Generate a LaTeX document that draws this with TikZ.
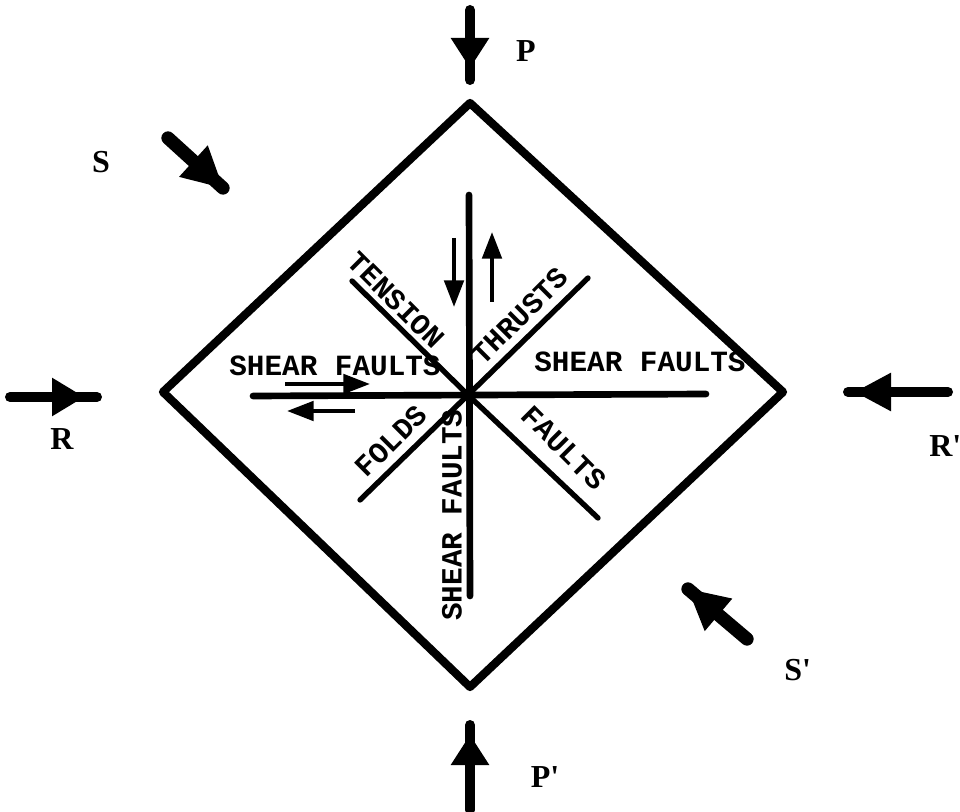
\documentclass[tikz,border=0pt]{standalone}
\usepackage{fontspec}
\newfontfamily\typfont{Liberation Mono}
\newfontfamily\labfont{Liberation Serif}
\usetikzlibrary{arrows.meta,calc}
\newcommand\forcearr[6]{% start, end, tip, head length, half width, shaft width
  \draw[forceshaft,line width=#6] (#1) -- (#2);
  \path ($(#3)!#4!(#1)$) coordinate (fb);
  \fill[line join=round] (#3) -- ($(fb)!#5!90:(#3)$) -- ($(fb)!#5!-90:(#3)$) -- cycle;
}
\begin{document}
\begin{tikzpicture}[x=0.75pt,y=-0.75pt,
  frame/.style={line width=6.2pt,line join=round},
  faultline/.style={line width=5pt,line cap=round},
  diagline/.style={line width=4pt,line cap=round},
  slip/.style={line width=3pt,-{Triangle[length=20pt,width=14.5pt]}},
  forceshaft/.style={line width=7.5pt,line cap=round},
  txt/.style={font=\typfont\bfseries\fontsize{22pt}{22pt}\selectfont,inner sep=0pt},
  lab/.style={font=\labfont\bfseries\fontsize{24pt}{24pt}\selectfont,inner sep=0pt}]
\useasboundingbox (0,0) rectangle (960,812);
% diamond
\coordinate (T) at (470,103);
\coordinate (B) at (470,687);
\coordinate (L) at (163,392);
\coordinate (Rr) at (783,392);
\draw[frame] (T) -- (Rr) -- (B) -- (L) -- cycle;
% star
\coordinate (O) at (468,395);
\coordinate (Hl) at (253,396);
\coordinate (Hr) at (706,394);
\coordinate (Vt) at (469,195);
\coordinate (Vb) at (470,596);
\coordinate (NW) at (352,281);
\coordinate (NE) at (588,278);
\coordinate (SW) at (360,500);
\coordinate (SE) at (598,518);
\draw[faultline] (Hl) -- (Hr);
\draw[faultline] (Vt) -- (Vb);
\draw[diagline] (NW) -- (O) -- (SE);
\draw[diagline] (NE) -- (O) -- (SW);
% slip arrows
\coordinate (d1) at (454,238); \coordinate (d2) at (454,307);
\coordinate (u1) at (492,302); \coordinate (u2) at (492,232);
\coordinate (r1) at (285,384); \coordinate (r2) at (370,384);
\coordinate (l1) at (355,411); \coordinate (l2) at (287,411);
\draw[slip] (d1) -- (d2);
\draw[slip] (u1) -- (u2);
\draw[slip] (r1) -- (r2);
\draw[slip] (l1) -- (l2);
% texts
\node[txt] (sfl) at (335,366) {SHEAR FAULTS};
\node[txt] (sfr) at (640,362) {SHEAR FAULTS};
\node[txt,rotate=90] (sfv) at (452,515) {SHEAR FAULTS};
\node[txt,rotate=-45] (ten) at (396,300) {TENSION};
\node[txt,rotate=45] (thr) at (520,316) {THRUSTS};
\node[txt,rotate=45] (fol) at (391,441) {FOLDS};
\node[txt,rotate=-45] (fau) at (564,448) {FAULTS};
% force arrows
\coordinate (Ps) at (470,10);  \coordinate (Pe) at (470,80);  \coordinate (Pt) at (470,68);
\coordinate (Qs) at (470,810); \coordinate (Qe) at (470,725); \coordinate (Qt) at (470,735);
\coordinate (Rs) at (10,397);  \coordinate (Re) at (97,397);  \coordinate (Rt) at (84,397);
\coordinate (Ss) at (948,392); \coordinate (Se) at (848,392); \coordinate (St) at (855,392);
\coordinate (As) at (168,138); \coordinate (Ae) at (223,188); \coordinate (At) at (223,188);
\coordinate (Bs) at (747,639); \coordinate (Be) at (688,589); \coordinate (Bt) at (688,589);
\forcearr{Ps}{Pe}{Pt}{22.5pt}{14.5pt}{7.5pt}
\forcearr{Qs}{Qe}{Qt}{22.5pt}{14.5pt}{7.5pt}
\forcearr{Rs}{Re}{Rt}{24pt}{14.5pt}{7.5pt}
\forcearr{Ss}{Se}{St}{27pt}{14.5pt}{7.5pt}
\forcearr{As}{Ae}{At}{30pt}{16pt}{10pt}
\forcearr{Bs}{Be}{Bt}{30pt}{16pt}{10pt}
% labels
\node[lab] (lP) at (526,51) {P};
\node[lab] (lQ) at (545,777) {P'};
\node[lab] (lR) at (62,439) {R};
\node[lab,anchor=west] (lR2) at (929,446) {R'};
\node[lab] (lS) at (101,162) {S};
\node[lab,anchor=west] (lS2) at (784,670) {S'};
\end{tikzpicture}
\end{document}
